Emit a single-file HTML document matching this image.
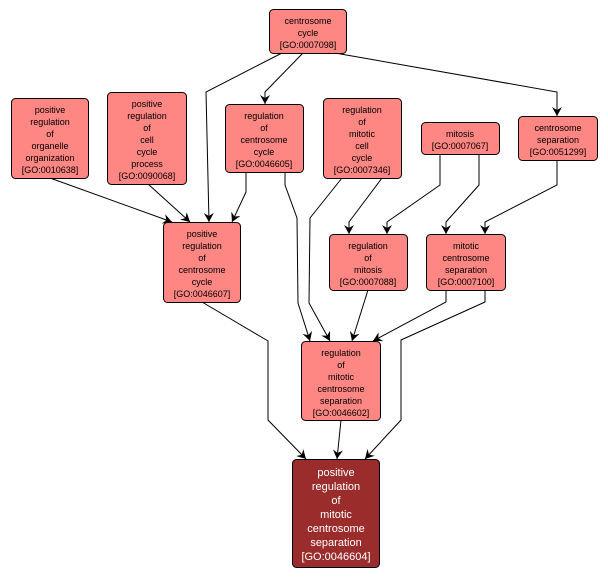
<!DOCTYPE html>
<html><head><meta charset="utf-8"><style>
body{margin:0;background:#fff;width:608px;height:578px;overflow:hidden}
svg text{font-family:"Liberation Sans",sans-serif;font-size:9px;text-anchor:middle;fill:#000}
.n{fill:#fe8683;stroke:#000;stroke-width:1}
.e{fill:none;stroke:#000;stroke-width:1}
</style></head><body>
<svg width="608" height="578" xmlns="http://www.w3.org/2000/svg">
<defs><marker id="a" markerWidth="10" markerHeight="10" refX="9" refY="5" orient="auto" markerUnits="userSpaceOnUse"><path d="M0,0 L9,5 L0,10 L3,5 z" fill="#000"/></marker></defs>
<g class="e" marker-end="url(#a)">
<polyline points="282,53 206,92 209,222"/>
<polyline points="303,53 265,92 265,104"/>
<polyline points="335,53 557,92 557,116"/>
<polyline points="50,178 172,222"/>
<polyline points="148,184 190,222"/>
<polyline points="246,172 246,192 232,222"/>
<polyline points="285,172 285,185 297,218 298,303 310,341"/>
<polyline points="342,178 310,218 309,303 330,341"/>
<polyline points="382,178 349,222 349,234"/>
<polyline points="440,154 440,185 387,222 387,234"/>
<polyline points="479,154 479,185 446,222 446,234"/>
<polyline points="557,160 557,185 485,222 485,234"/>
<polyline points="368,290 352,341"/>
<polyline points="446,290 446,302 373,341"/>
<polyline points="485,290 485,302 401,340 401,420 365,459"/>
<polyline points="202,302 268,341 268,420 306,459"/>
<polyline points="341,420 337,459"/>
</g>
<rect class="n" x="269.5" y="9.5" width="77" height="44" rx="4"/>
<text x="308" y="24">centrosome</text><text x="308" y="36">cycle</text><text x="308" y="48">[GO:0007098]</text>
<rect class="n" x="11.5" y="98.5" width="77" height="80" rx="4"/>
<text x="50" y="113">positive</text><text x="50" y="125">regulation</text><text x="50" y="137">of</text><text x="50" y="149">organelle</text><text x="50" y="161">organization</text><text x="50" y="173">[GO:0010638]</text>
<rect class="n" x="107.5" y="92.5" width="79" height="92" rx="4"/>
<text x="147" y="107">positive</text><text x="147" y="119">regulation</text><text x="147" y="131">of</text><text x="147" y="143">cell</text><text x="147" y="155">cycle</text><text x="147" y="167">process</text><text x="147" y="179">[GO:0090068]</text>
<rect class="n" x="225.5" y="104.5" width="78" height="68" rx="4"/>
<text x="264" y="119">regulation</text><text x="264" y="131">of</text><text x="264" y="143">centrosome</text><text x="264" y="155">cycle</text><text x="264" y="167">[GO:0046605]</text>
<rect class="n" x="323.5" y="98.5" width="78" height="80" rx="4"/>
<text x="362" y="113">regulation</text><text x="362" y="125">of</text><text x="362" y="137">mitotic</text><text x="362" y="149">cell</text><text x="362" y="161">cycle</text><text x="362" y="173">[GO:0007346]</text>
<rect class="n" x="421.5" y="122.5" width="78" height="32" rx="4"/>
<text x="460" y="137">mitosis</text><text x="460" y="149">[GO:0007067]</text>
<rect class="n" x="518.5" y="116.5" width="79" height="44" rx="4"/>
<text x="558" y="131">centrosome</text><text x="558" y="143">separation</text><text x="558" y="155">[GO:0051299]</text>
<rect class="n" x="163.5" y="222.5" width="77" height="80" rx="4"/>
<text x="202" y="237">positive</text><text x="202" y="249">regulation</text><text x="202" y="261">of</text><text x="202" y="273">centrosome</text><text x="202" y="285">cycle</text><text x="202" y="297">[GO:0046607]</text>
<rect class="n" x="329.5" y="234.5" width="78" height="56" rx="4"/>
<text x="368" y="249">regulation</text><text x="368" y="261">of</text><text x="368" y="273">mitosis</text><text x="368" y="285">[GO:0007088]</text>
<rect class="n" x="426.5" y="234.5" width="79" height="56" rx="4"/>
<text x="466" y="249">mitotic</text><text x="466" y="261">centrosome</text><text x="466" y="273">separation</text><text x="466" y="285">[GO:0007100]</text>
<rect class="n" x="301.5" y="341.5" width="79" height="79" rx="4"/>
<text x="341" y="356">regulation</text><text x="341" y="368">of</text><text x="341" y="380">mitotic</text><text x="341" y="392">centrosome</text><text x="341" y="404">separation</text><text x="341" y="416">[GO:0046602]</text>
<rect x="292.5" y="459.5" width="87" height="108" rx="4" fill="#9a2c2c" stroke="#000"/>
<g style="font-size:11px">
<text x="336" y="476" fill="#fff" style="font-size:11px;fill:#fff">positive</text>
<text x="336" y="490" style="font-size:11px;fill:#fff">regulation</text>
<text x="336" y="504" style="font-size:11px;fill:#fff">of</text>
<text x="336" y="518" style="font-size:11px;fill:#fff">mitotic</text>
<text x="336" y="532" style="font-size:11px;fill:#fff">centrosome</text>
<text x="336" y="546" style="font-size:11px;fill:#fff">separation</text>
<text x="336" y="560" style="font-size:11px;fill:#fff">[GO:0046604]</text>
</g>
</svg>
</body></html>
